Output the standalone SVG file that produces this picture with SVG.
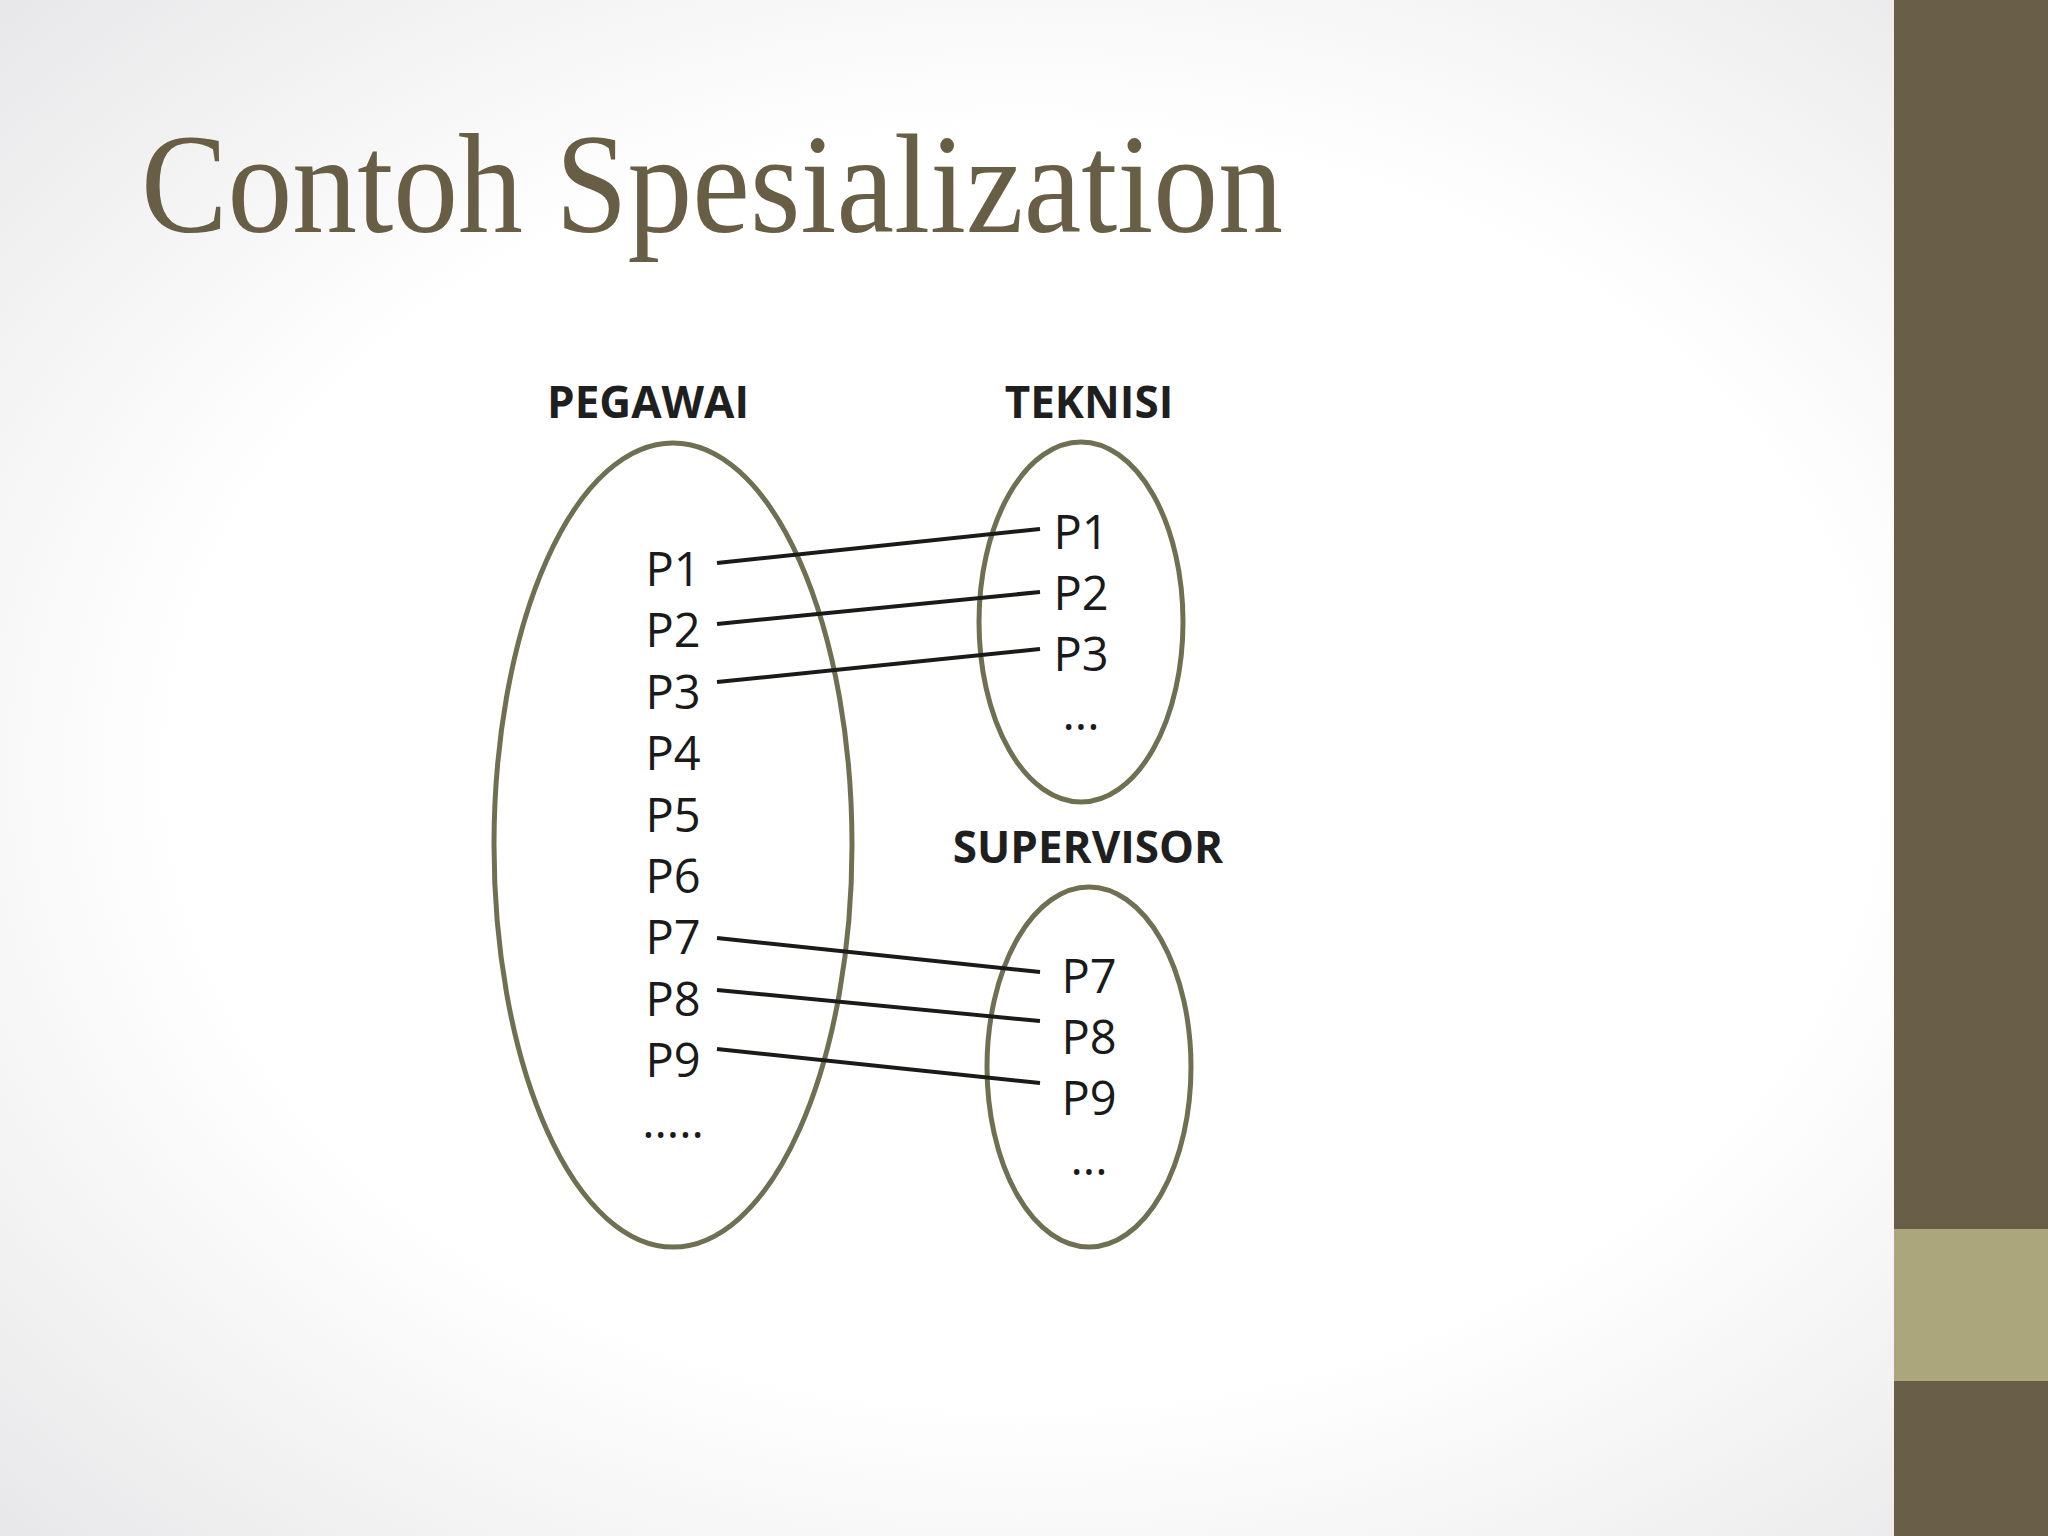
<svg xmlns="http://www.w3.org/2000/svg" width="2048" height="1536" viewBox="0 0 2048 1536">
<defs>
<radialGradient id="bg" cx="0.5" cy="0.5" r="0.75">
<stop offset="0.55" stop-color="#FFFFFF"/>
<stop offset="1" stop-color="#E4E4E6"/>
</radialGradient>
<style>
.set{fill:none;stroke:#6F7052;stroke-width:5}
.lbl{font-family:"Open Sans","DejaVu Sans",sans-serif;font-size:47px;fill:#1A1A1A;text-anchor:middle}
.hdr{font-family:"Open Sans","DejaVu Sans",sans-serif;font-size:44px;font-weight:bold;fill:#1F1F1F;text-anchor:middle}
.ln{stroke:#1A1A18;stroke-width:4}
</style>
</defs>
<rect width="2048" height="1536" fill="url(#bg)"/>
<rect x="1894" y="0" width="154" height="1536" fill="#695E47"/>
<rect x="1894" y="1229" width="154" height="152" fill="#ABA67C"/>
<text x="141" y="232" font-family="'Liberation Serif',serif" font-size="142" fill="#675E45" textLength="1142" lengthAdjust="spacingAndGlyphs">Contoh Spesialization</text>

<g id="pegawai">
<ellipse class="set" cx="673" cy="845" rx="179" ry="402"/>
<text class="hdr" x="648" y="418">PEGAWAI</text>
<text class="lbl" x="673" y="586">P1</text>
<text class="lbl" x="673" y="647">P2</text>
<text class="lbl" x="673" y="709">P3</text>
<text class="lbl" x="673" y="770">P4</text>
<text class="lbl" x="673" y="832">P5</text>
<text class="lbl" x="673" y="893">P6</text>
<text class="lbl" x="673" y="954">P7</text>
<text class="lbl" x="673" y="1016">P8</text>
<text class="lbl" x="673" y="1077">P9</text>
<text class="lbl" x="673" y="1138">.....</text>
</g>

<g id="teknisi">
<ellipse class="set" cx="1081" cy="622" rx="102" ry="180"/>
<text class="hdr" x="1089" y="418">TEKNISI</text>
<text class="lbl" x="1081" y="549">P1</text>
<text class="lbl" x="1081" y="610">P2</text>
<text class="lbl" x="1081" y="671">P3</text>
<text class="lbl" x="1081" y="730">...</text>
</g>

<g id="supervisor">
<ellipse class="set" cx="1089" cy="1067" rx="102" ry="180"/>
<text class="hdr" x="1088" y="863">SUPERVISOR</text>
<text class="lbl" x="1089" y="993">P7</text>
<text class="lbl" x="1089" y="1054">P8</text>
<text class="lbl" x="1089" y="1115">P9</text>
<text class="lbl" x="1089" y="1175">...</text>
</g>

<g id="connectors">
<line class="ln" x1="717" y1="563" x2="1040" y2="529"/>
<line class="ln" x1="717" y1="624" x2="1040" y2="592"/>
<line class="ln" x1="717" y1="682" x2="1040" y2="649"/>
<line class="ln" x1="717" y1="938" x2="1040" y2="972"/>
<line class="ln" x1="717" y1="990" x2="1040" y2="1021"/>
<line class="ln" x1="717" y1="1049" x2="1040" y2="1083"/>
</g>
</svg>
